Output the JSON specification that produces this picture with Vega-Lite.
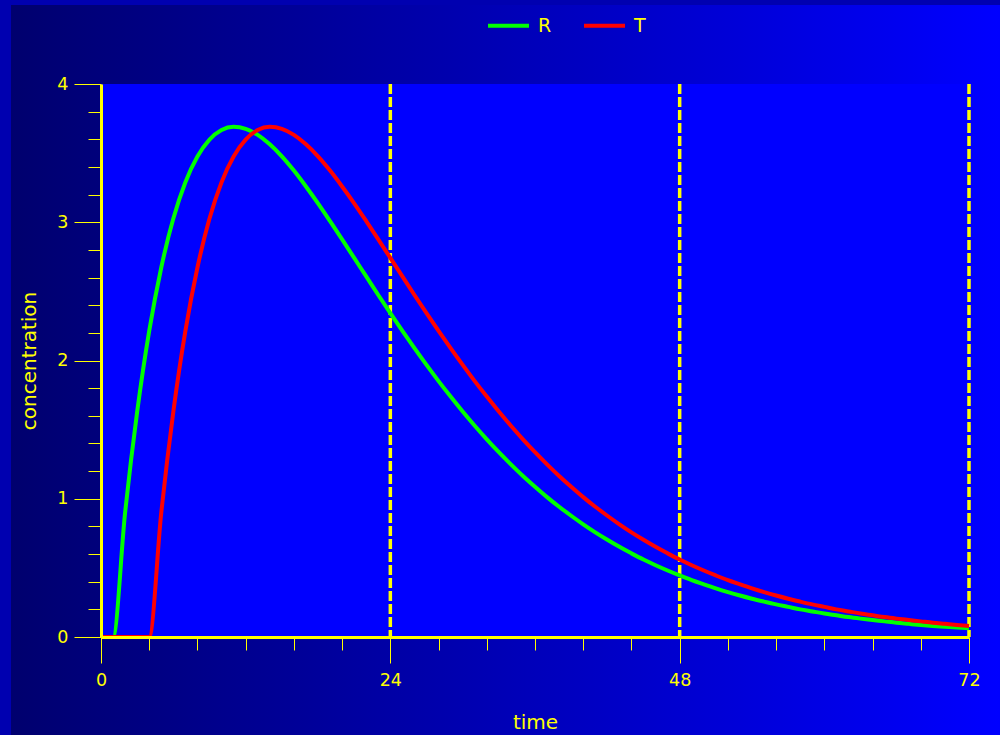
{
  "$schema": "https://vega.github.io/schema/vega-lite/v6.json",
  "width": 868,
  "height": 553,
  "autosize": {"type": "none"},
  "padding": {"left": 101, "top": 84, "right": 31, "bottom": 98},
  "background": "#0000b0",
  "config": {
    "view": {"stroke": null},
    "font": "DejaVu Sans",
    "axis": {
      "grid": false,
      "zindex": 1,
      "labelColor": "#ffff00",
      "tickColor": "#ffff00",
      "domainColor": "#ffff00",
      "titleColor": "#ffff00",
      "labelFontSize": 17.5,
      "titleFontSize": 20,
      "titleFontWeight": "normal",
      "tickWidth": 1,
      "domainWidth": 3,
      "labelFlush": false,
      "labelFont": "DejaVu Sans",
      "titleFont": "DejaVu Sans"
    }
  },
  "resolve": {"axis": {"x": "independent", "y": "independent"}},
  "datasets": {
    "conc": [
      {"time": 0, "R": 0, "T": 0},
      {"time": 1, "R": 0, "T": 0},
      {"time": 2, "R": 0.900, "T": 0},
      {"time": 3, "R": 1.629, "T": 0},
      {"time": 4, "R": 2.214, "T": 0},
      {"time": 5, "R": 2.673, "T": 0.900},
      {"time": 6, "R": 3.027, "T": 1.629},
      {"time": 7, "R": 3.290, "T": 2.214},
      {"time": 8, "R": 3.476, "T": 2.673},
      {"time": 9, "R": 3.598, "T": 3.027},
      {"time": 10, "R": 3.667, "T": 3.290},
      {"time": 11, "R": 3.690, "T": 3.476},
      {"time": 12, "R": 3.676, "T": 3.598},
      {"time": 13, "R": 3.632, "T": 3.667},
      {"time": 14, "R": 3.564, "T": 3.690},
      {"time": 15, "R": 3.477, "T": 3.676},
      {"time": 16, "R": 3.374, "T": 3.632},
      {"time": 17, "R": 3.259, "T": 3.564},
      {"time": 18, "R": 3.137, "T": 3.477},
      {"time": 19, "R": 3.008, "T": 3.374},
      {"time": 20, "R": 2.876, "T": 3.259},
      {"time": 21, "R": 2.742, "T": 3.137},
      {"time": 22, "R": 2.608, "T": 3.008},
      {"time": 23, "R": 2.474, "T": 2.876},
      {"time": 24, "R": 2.343, "T": 2.742},
      {"time": 25, "R": 2.214, "T": 2.608},
      {"time": 26, "R": 2.089, "T": 2.474},
      {"time": 27, "R": 1.968, "T": 2.343},
      {"time": 28, "R": 1.851, "T": 2.214},
      {"time": 29, "R": 1.739, "T": 2.089},
      {"time": 30, "R": 1.631, "T": 1.968},
      {"time": 31, "R": 1.528, "T": 1.851},
      {"time": 32, "R": 1.430, "T": 1.739},
      {"time": 33, "R": 1.337, "T": 1.631},
      {"time": 34, "R": 1.249, "T": 1.528},
      {"time": 35, "R": 1.165, "T": 1.430},
      {"time": 36, "R": 1.087, "T": 1.337},
      {"time": 37, "R": 1.012, "T": 1.249},
      {"time": 38, "R": 0.942, "T": 1.165},
      {"time": 39, "R": 0.877, "T": 1.087},
      {"time": 40, "R": 0.815, "T": 1.012},
      {"time": 41, "R": 0.757, "T": 0.942},
      {"time": 42, "R": 0.703, "T": 0.877},
      {"time": 43, "R": 0.652, "T": 0.815},
      {"time": 44, "R": 0.605, "T": 0.757},
      {"time": 45, "R": 0.560, "T": 0.703},
      {"time": 46, "R": 0.519, "T": 0.652},
      {"time": 47, "R": 0.481, "T": 0.605},
      {"time": 48, "R": 0.445, "T": 0.560},
      {"time": 49, "R": 0.411, "T": 0.519},
      {"time": 50, "R": 0.381, "T": 0.481},
      {"time": 51, "R": 0.352, "T": 0.445},
      {"time": 52, "R": 0.325, "T": 0.411},
      {"time": 53, "R": 0.300, "T": 0.381},
      {"time": 54, "R": 0.277, "T": 0.352},
      {"time": 55, "R": 0.256, "T": 0.325},
      {"time": 56, "R": 0.236, "T": 0.300},
      {"time": 57, "R": 0.218, "T": 0.277},
      {"time": 58, "R": 0.200, "T": 0.256},
      {"time": 59, "R": 0.185, "T": 0.236},
      {"time": 60, "R": 0.170, "T": 0.218},
      {"time": 61, "R": 0.157, "T": 0.200},
      {"time": 62, "R": 0.144, "T": 0.185},
      {"time": 63, "R": 0.133, "T": 0.170},
      {"time": 64, "R": 0.123, "T": 0.157},
      {"time": 65, "R": 0.113, "T": 0.144},
      {"time": 66, "R": 0.103, "T": 0.133},
      {"time": 67, "R": 0.095, "T": 0.123},
      {"time": 68, "R": 0.087, "T": 0.113},
      {"time": 69, "R": 0.080, "T": 0.103},
      {"time": 70, "R": 0.074, "T": 0.095},
      {"time": 71, "R": 0.068, "T": 0.087},
      {"time": 72, "R": 0.063, "T": 0.080}
    ],
    "dosing": [{"time": 24}, {"time": 48}, {"time": 72}]
  },
  "layer": [
    {
      "data": {"values": [{"panel": "background"}]},
      "mark": {
        "type": "rect",
        "clip": false,
        "fill": {
          "gradient": "linear",
          "x1": 0, "y1": 0, "x2": 1, "y2": 0,
          "stops": [
            {"offset": 0, "color": "#00006e"},
            {"offset": 1, "color": "#0000ff"}
          ]
        }
      },
      "encoding": {
        "x": {"datum": -7.465, "type": "quantitative", "scale": {"domain": [0, 72], "nice": false, "zero": false}, "axis": null},
        "x2": {"datum": 74.571},
        "y": {"datum": 4.5714, "type": "quantitative", "scale": {"domain": [0, 4], "nice": false, "zero": false}, "axis": null},
        "y2": {"datum": -0.7089}
      }
    },
    {
      "data": {"values": [{"panel": "plot"}]},
      "mark": {"type": "rect", "fill": "#0000ff"},
      "encoding": {
        "x": {
          "datum": 0, "type": "quantitative",
          "scale": {"domain": [0, 72], "nice": false, "zero": false},
          "axis": {"orient": "bottom", "zindex": 2, "values": [4, 8, 12, 16, 20, 28, 32, 36, 40, 44, 52, 56, 60, 64, 68], "tickSize": 13, "labels": false, "domain": false, "title": null}
        },
        "x2": {"datum": 72},
        "y": {
          "datum": 0, "type": "quantitative",
          "scale": {"domain": [0, 4], "nice": false, "zero": false},
          "axis": {"orient": "left", "zindex": 2, "values": [0.2, 0.4, 0.6, 0.8, 1.2, 1.4, 1.6, 1.8, 2.2, 2.4, 2.6, 2.8, 3.2, 3.4, 3.6, 3.8], "tickSize": 13, "labels": false, "domain": false, "title": null}
        },
        "y2": {"datum": 4}
      }
    },
    {
      "data": {"name": "dosing"},
      "mark": {"type": "rule", "color": "#ffff00", "strokeWidth": 3.5, "strokeDash": [10, 3]},
      "encoding": {
        "x": {"field": "time", "type": "quantitative", "scale": {"domain": [0, 72], "nice": false, "zero": false}, "axis": null}
      }
    },
    {
      "data": {"name": "conc"},
      "transform": [{"fold": ["R", "T"], "as": ["series", "concentration"]}],
      "mark": {"type": "line", "strokeWidth": 4, "interpolate": "monotone"},
      "encoding": {
        "x": {
          "field": "time", "type": "quantitative",
          "scale": {"domain": [0, 72], "nice": false, "zero": false},
          "axis": {"orient": "bottom", "zindex": 2, "values": [0, 24, 48, 72], "format": "d", "tickSize": 26, "labelPadding": 8, "title": "time", "titlePadding": 24}
        },
        "y": {
          "field": "concentration", "type": "quantitative",
          "scale": {"domain": [0, 4], "nice": false, "zero": false},
          "axis": {"orient": "left", "zindex": 2, "values": [0, 1, 2, 3, 4], "format": "d", "tickSize": 27, "labelPadding": 6, "title": "concentration", "titlePadding": 17}
        },
        "color": {
          "field": "series", "type": "nominal",
          "scale": {"domain": ["R", "T"], "range": ["#00ff00", "#ff0000"]},
          "legend": {
            "orient": "none",
            "direction": "horizontal",
            "legendX": 385,
            "legendY": -81,
            "title": null,
            "symbolType": "stroke",
            "symbolSize": 1681,
            "symbolStrokeWidth": 4,
            "labelFontSize": 19,
            "labelColor": "#ffff00",
            "labelOffset": 7,
            "columnPadding": 24
          }
        }
      }
    }
  ]
}
